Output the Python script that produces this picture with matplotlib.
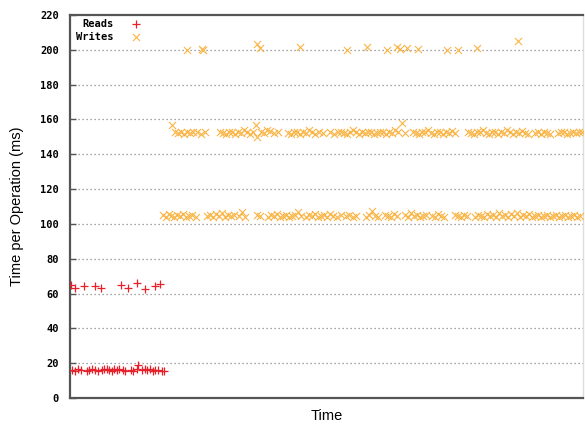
import matplotlib
matplotlib.use('Agg')
from matplotlib import pyplot as plt

# (time, ms) pairs; time in arbitrary units
reads_low = [(2, 16), (5, 15.5), (8, 16.5), (11, 16), (17, 15.5), (19, 16), (22, 16.5),
             (25, 16), (28, 15.5), (32, 16), (34, 16.5), (37, 17), (39, 16), (42, 15.5),
             (44, 16.5), (47, 16), (49, 17), (53, 16), (55, 15.5), (61, 16), (63, 15.5),
             (67, 16.5), (68, 19), (72, 16), (75, 17), (77, 16), (80, 16.5), (83, 15.5),
             (85, 16), (88, 16), (92, 15.5), (94, 15.5)]
reads_high = [(1, 65), (5, 63), (14, 64.5), (25, 64.5), (31, 63.5), (51, 65), (58, 63),
              (67, 66), (75, 62.5), (85, 64.5), (90, 65.5)]

writes_top = [(117, 200), (132, 200.5), (133, 200), (187, 203), (190, 201), (230, 201.5),
              (277, 200), (297, 201.5), (317, 200), (327, 201.5), (330, 200.5), (337, 201),
              (348, 200.5), (377, 200), (388, 200), (407, 201), (448, 205)]

writes_mid = [(102, 157), (105, 153), (108, 152), (111, 153), (114, 151.5), (117, 153),
              (120, 152), (123, 152.5), (127, 153), (131, 151.5), (135, 152.5),
              (150, 153), (153, 152), (156, 151.5), (159, 153), (162, 152.5), (165, 151.5),
              (168, 153), (171, 152), (174, 154), (177, 152.5), (180, 151.5), (183, 153),
              (186, 157), (187, 150), (191, 153), (194, 152), (197, 154), (200, 153.5),
              (204, 152), (208, 153),
              (218, 152), (221, 151.5), (224, 153), (227, 152.5), (230, 151.5), (233, 153),
              (236, 152), (239, 154), (242, 152.5), (245, 151.5), (249, 153), (253, 152),
              (260, 153), (264, 151.5), (268, 152.5), (271, 153), (274, 152), (277, 151.5),
              (280, 153), (283, 154), (286, 152.5), (289, 151.5), (292, 153), (295, 152),
              (298, 152.5), (301, 153), (304, 151.5), (307, 152), (310, 153), (313, 152.5),
              (316, 151.5), (319, 153), (322, 152), (325, 154), (328, 152.5), (332, 158),
              (335, 152),
              (343, 153), (346, 152), (349, 151.5), (352, 153), (355, 152.5), (358, 154),
              (361, 152), (364, 151.5), (367, 153), (370, 152.5), (373, 151.5), (376, 153),
              (379, 152), (382, 153.5), (385, 152),
              (398, 153), (401, 152), (404, 151.5), (407, 153), (410, 152.5), (413, 154),
              (416, 152), (419, 151.5), (422, 153), (425, 152.5), (428, 151.5), (431, 153),
              (434, 152), (437, 154), (440, 152.5), (443, 151.5), (446, 153), (449, 152),
              (452, 153.5), (455, 152), (458, 151.5),
              (465, 152), (468, 153), (471, 151.5), (474, 152.5), (477, 152), (480, 151.5),
              (488, 152), (491, 153), (494, 152.5), (497, 151.5), (500, 152), (503, 153),
              (506, 152), (509, 152.5), (512, 153)]

writes_low = [(93, 105), (96, 104), (99, 105.5), (101, 104.5), (104, 104), (107, 105),
              (110, 104.5), (113, 105.5), (116, 104), (119, 104.5), (122, 105), (126, 104),
              (137, 104.5), (140, 105), (143, 104), (146, 105.5), (149, 104.5), (152, 106),
              (155, 104), (158, 105), (161, 104.5), (164, 105),
              (169, 104.5), (172, 107), (175, 104),
              (187, 105), (190, 104.5),
              (198, 104), (201, 105), (204, 104.5), (207, 105.5), (210, 104), (213, 104.5),
              (216, 105), (219, 104), (222, 104.5), (225, 105), (228, 107), (231, 104.5),
              (236, 104), (239, 105), (242, 104.5), (245, 105.5), (248, 104), (251, 104.5),
              (254, 105), (257, 104), (260, 105.5), (263, 104.5), (267, 104), (271, 105),
              (276, 104.5), (279, 105), (283, 104), (286, 104.5),
              (296, 104), (299, 105), (302, 107.5), (305, 104.5), (308, 104),
              (315, 105), (318, 104.5), (321, 104), (324, 105.5), (327, 104.5),
              (335, 105), (338, 104), (341, 106), (344, 104.5), (347, 105), (350, 104),
              (353, 104.5), (356, 105),
              (362, 104.5), (365, 104), (368, 105.5), (371, 104.5), (374, 104),
              (385, 105), (388, 104.5), (391, 104), (394, 105), (397, 104.5),
              (405, 104), (408, 105), (411, 104.5), (414, 104), (417, 105.5), (420, 104.5),
              (423, 105), (426, 104), (429, 106), (432, 104.5), (435, 105), (438, 104),
              (441, 105.5), (444, 104.5), (447, 106), (450, 104), (453, 105), (456, 104.5),
              (459, 105.5), (462, 104), (465, 104.5), (468, 105), (471, 104), (474, 104.5),
              (477, 105), (480, 104), (483, 104.5), (486, 105), (489, 104), (492, 104.5),
              (495, 105), (498, 104), (501, 104.5), (504, 105), (507, 104), (510, 104.5)]

reads = reads_low + reads_high
writes = writes_low + writes_mid + writes_top

y_ticks = [0, 20, 40, 60, 80, 100, 120, 140, 160, 180, 200, 220]

mono = {'family': 'DejaVu Sans Mono', 'weight': 'bold', 'size': 7.5}

fig = plt.figure(figsize=(5.85, 4.24), dpi=100)
ax = fig.add_axes([0.12, 0.061, 0.877, 0.904])

ax.scatter([p[0] for p in reads], [p[1] for p in reads], marker='+', s=28,
           color='#e8202a', linewidths=0.9, label='Reads', zorder=3)
ax.scatter([p[0] for p in writes], [p[1] for p in writes], marker='x', s=26,
           color='#f9b445', linewidths=0.8, label='Writes', zorder=3)

ax.set_xlim(0, 513)
ax.set_ylim(0, 220)
ax.set_yticks(y_ticks)
ax.set_yticklabels([str(v) for v in y_ticks], fontdict=mono)
ax.set_xticks([])
ax.tick_params(axis='y', direction='in', length=4, width=1, color='#555', pad=8)

for v in y_ticks[1:-1]:
    ax.axhline(v, color='#888888', lw=0.9, ls=(0, (1, 2.2)), zorder=1)

for s in ['left', 'bottom', 'top']:
    ax.spines[s].set_color('#555555')
    ax.spines[s].set_linewidth(1.6)
ax.spines['right'].set_color('#dddddd')
ax.spines['right'].set_linewidth(1)

ax.set_ylabel('Time per Operation (ms)', family='Liberation Sans', size=10.5)
ax.yaxis.set_label_coords(-0.09, 0.5)
ax.set_xlabel('Time', family='Liberation Sans', size=10.5, labelpad=8)

leg = ax.legend(loc='upper left', bbox_to_anchor=(0.0, 1.005), frameon=False,
                markerfirst=False, prop=mono, handletextpad=1.6, labelspacing=0.25,
                handlelength=1.0, borderaxespad=0.2)

fig.savefig('out.png', dpi=100)
